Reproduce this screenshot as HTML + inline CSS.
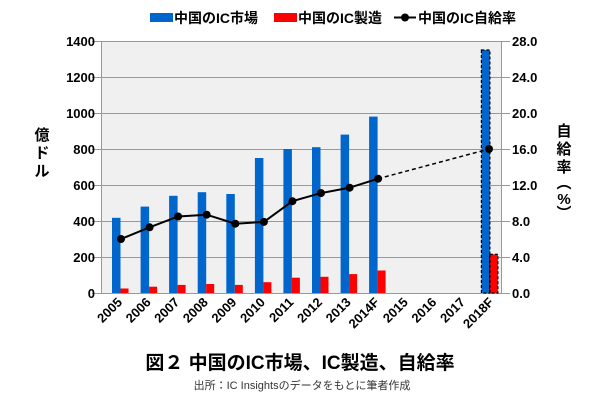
<!DOCTYPE html>
<html><head><meta charset="utf-8"><style>
html,body{margin:0;padding:0;background:#fff;}
svg{display:block;font-family:"Liberation Sans","Noto Sans CJK JP",sans-serif;}
</style></head><body>
<svg width="600" height="400" viewBox="0 0 600 400">
<rect x="101" y="41" width="400" height="252" fill="#f0f0f0"/>
<g stroke="#999" stroke-width="1">
<line x1="92" y1="41.5" x2="510" y2="41.5"/>
<line x1="92" y1="77.5" x2="510" y2="77.5"/>
<line x1="92" y1="113.5" x2="510" y2="113.5"/>
<line x1="92" y1="149.5" x2="510" y2="149.5"/>
<line x1="92" y1="185.5" x2="510" y2="185.5"/>
<line x1="92" y1="221.5" x2="510" y2="221.5"/>
<line x1="92" y1="257.5" x2="510" y2="257.5"/>
<line x1="92" y1="293.5" x2="510" y2="293.5"/>
<line x1="101.5" y1="41" x2="101.5" y2="293"/>
<line x1="501.5" y1="41" x2="501.5" y2="293"/>
</g>
<g fill="#0066cc">
<rect x="112" y="217.8" width="8.5" height="75.2"/>
<rect x="140.6" y="206.6" width="8.5" height="86.4"/>
<rect x="169.1" y="195.8" width="8.5" height="97.2"/>
<rect x="197.7" y="192.2" width="8.5" height="100.8"/>
<rect x="226.3" y="194" width="8.5" height="99"/>
<rect x="254.9" y="158" width="8.5" height="135"/>
<rect x="283.4" y="149" width="8.5" height="144"/>
<rect x="312" y="147.2" width="8.5" height="145.8"/>
<rect x="340.6" y="134.6" width="8.5" height="158.4"/>
<rect x="369.1" y="116.6" width="8.5" height="176.4"/>
<rect x="481.4" y="50" width="8.5" height="243" stroke="#000" stroke-dasharray="3,2" stroke-width="1.2"/>
</g>
<g fill="#ff0000">
<rect x="120.5" y="288.5" width="8" height="4.5"/>
<rect x="149.1" y="286.7" width="8" height="6.3"/>
<rect x="177.6" y="284.9" width="8" height="8.1"/>
<rect x="206.2" y="284" width="8" height="9"/>
<rect x="234.8" y="284.9" width="8" height="8.1"/>
<rect x="263.4" y="282.2" width="8" height="10.8"/>
<rect x="291.9" y="277.7" width="8" height="15.3"/>
<rect x="320.5" y="276.8" width="8" height="16.2"/>
<rect x="349.1" y="274.1" width="8" height="18.9"/>
<rect x="377.6" y="270.5" width="8" height="22.5"/>
<rect x="489.9" y="254.3" width="8" height="38.7" stroke="#000" stroke-dasharray="3,2" stroke-width="1.2"/>
</g>
<polyline points="121,239 149.6,227.3 178.1,216.5 206.7,214.7 235.3,223.7 263.9,221.9 292.4,201.2 321,193.1 349.6,187.7 378.1,178.7" fill="none" stroke="#000" stroke-width="2"/>
<line x1="378.1" y1="178.7" x2="489" y2="149" stroke="#000" stroke-width="1.5" stroke-dasharray="4,3"/>
<g fill="#000">
<circle cx="121" cy="239" r="4"/><circle cx="149.6" cy="227.3" r="4"/><circle cx="178.1" cy="216.5" r="4"/>
<circle cx="206.7" cy="214.7" r="4"/><circle cx="235.3" cy="223.7" r="4"/><circle cx="263.9" cy="221.9" r="4"/>
<circle cx="292.4" cy="201.2" r="4"/><circle cx="321" cy="193.1" r="4"/><circle cx="349.6" cy="187.7" r="4"/>
<circle cx="378.1" cy="178.7" r="4"/><circle cx="489" cy="149" r="4"/>
</g>
<g font-size="13" font-weight="bold" text-anchor="end" fill="#000">
<text x="95" y="46">1400</text><text x="95" y="82">1200</text><text x="95" y="118">1000</text>
<text x="95" y="154">800</text><text x="95" y="190">600</text><text x="95" y="226">400</text>
<text x="95" y="262">200</text><text x="95" y="298">0</text>
</g>
<g font-size="13" font-weight="bold" text-anchor="start" fill="#000">
<text x="512" y="46">28.0</text><text x="512" y="82">24.0</text><text x="512" y="118">20.0</text>
<text x="512" y="154">16.0</text><text x="512" y="190">12.0</text><text x="512" y="226">8.0</text>
<text x="512" y="262">4.0</text><text x="512" y="298">0.0</text>
</g>
<g font-size="13" font-weight="bold" text-anchor="end" fill="#000">
<text transform="translate(123,303) rotate(-45)">2005</text>
<text transform="translate(151.6,303) rotate(-45)">2006</text>
<text transform="translate(180.1,303) rotate(-45)">2007</text>
<text transform="translate(208.7,303) rotate(-45)">2008</text>
<text transform="translate(237.3,303) rotate(-45)">2009</text>
<text transform="translate(265.9,303) rotate(-45)">2010</text>
<text transform="translate(294.4,303) rotate(-45)">2011</text>
<text transform="translate(323,303) rotate(-45)">2012</text>
<text transform="translate(351.6,303) rotate(-45)">2013</text>
<text transform="translate(380.1,303) rotate(-45)">2014F</text>
<text transform="translate(408.7,303) rotate(-45)">2015</text>
<text transform="translate(437.3,303) rotate(-45)">2016</text>
<text transform="translate(465.9,303) rotate(-45)">2017</text>
<text transform="translate(494.4,303) rotate(-45)">2018F</text>
</g>
<g font-size="15" font-weight="bold" text-anchor="middle">
<text x="42" y="140">億</text><text x="42" y="158">ド</text><text x="42" y="176">ル</text>
<text x="564" y="136">自</text><text x="564" y="154">給</text><text x="564" y="172">率</text>
<text x="564" y="188">︵</text><text x="564" y="204">%</text><text x="564" y="218">︶</text>
</g>
<g font-size="14" font-weight="bold">
<rect x="150" y="13" width="23" height="9" fill="#0066cc"/>
<text x="174" y="23">中国のIC市場</text>
<rect x="274" y="13" width="23" height="9" fill="#ff0000"/>
<text x="298" y="23">中国のIC製造</text>
<line x1="394" y1="17.5" x2="416" y2="17.5" stroke="#000" stroke-width="2"/>
<circle cx="405" cy="17.5" r="4" fill="#000"/>
<text x="418" y="23">中国のIC自給率</text>
</g>
<text x="300" y="369" font-size="19" font-weight="bold" text-anchor="middle">図２  中国のIC市場、IC製造、自給率</text>
<text x="302" y="389" font-size="11" text-anchor="middle" fill="#333">出所：IC Insightsのデータをもとに筆者作成</text>
</svg>
</body></html>
